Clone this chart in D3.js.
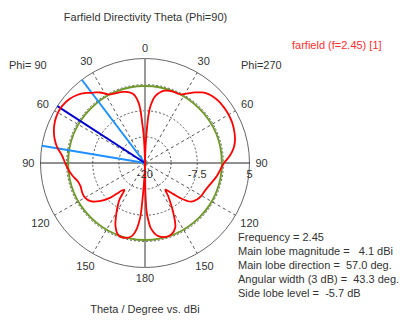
<!DOCTYPE html>
<html>
<head>
<meta charset="utf-8">
<script src="https://cdn.jsdelivr.net/npm/d3@7"></script>
<style>
  html, body { margin: 0; padding: 0; background: #fff; }
  svg { display: block; font-family: "Liberation Sans", Arial, sans-serif; font-size: 11px; }
  text { white-space: pre; }
</style>
</head>
<body>
<svg id="chart" width="412" height="320"></svg>
<script>
// Polar angle theta (deg) shared by both half-cuts
const theta = [0, 1, 2, 3, 4, 5, 6, 8, 10, 12.5, 15, 17.5, 20, 22.5, 25, 27.5, 30, 32.5, 35, 37.5, 40,
  45, 50, 55, 57, 60, 65, 70, 75, 80, 85, 90, 95, 100, 105, 110, 115, 120, 125, 130, 135,
  137.5, 140, 142.5, 145, 147.5, 150, 155, 160, 165, 170, 172.5, 175, 176, 177, 178, 179, 180];

// Directivity (dBi) on the Phi=270 half (drawn on the right)
const dirPhi270 = [-40, -24, -16, -12.5, -8.8, -6.9, -5.8, -4.2, -3.3, -2.6, -2.1, -1.85, -1.7, -1.65, -1.6, -1.5, -0.9, -0.2, 0.6, 1.3, 2.0,
  2.7, 3.0, 3.1, 3.1, 3.1, 3.0, 2.7, 2.3, 1.6, 0.4, -1.1, -1.9, -2.5, -3.2, -3.8, -4.2, -4.4, -4.8, -5.6, -8.2,
  -9.9, -11.2, -12.0, -10.3, -8.6, -6.6, -2.9, -1.75, -1.65, -2.3, -3.1, -4.4, -5.4, -6.7, -8.2, -12, -40];

// Directivity (dBi) on the Phi=90 half (drawn on the left)
const dirPhi90 = [-40, -25, -16, -12.5, -10.3, -7.0, -5.6, -4.0, -3.2, -2.7, -2.4, -2.15, -2.0, -1.9, -1.75, -1.5, -0.8, 0.0, 0.6, 1.15, 1.9,
  3.0, 3.7, 4.05, 4.1, 4.05, 3.75, 3.2, 2.4, 1.3, -0.1, -0.9, -1.6, -2.4, -3.3, -3.6, -3.4, -3.4, -4.1, -5.8, -8.3,
  -10.1, -11.4, -11.9, -9.4, -7.9, -6.4, -3.3, -1.55, -1.45, -2.3, -3.8, -7.0, -11, -15, -18, -22, -40];

const angleTicks = [0, 30, 60, 90, 120, 150, 180];
const radialLabels = [-20, -7.5, 5];
const gridRings = [-13.75, -7.5, -1.25];
const rMin = -20, rMax = 5;

// Farfield summary
const frequency = 2.45;
const mainLobeMag = 4.1;      // dBi
const mainLobeDir = 57.0;     // deg, Phi=90 half
const beamWidth = 43.3;       // deg, 3 dB
const beamStart = 37.2;       // deg, first 3 dB crossing
const sideLobeLevel = -5.7;   // dB relative to main lobe

const cx = 145, cy = 163, R = 104.5;
const rad = d => d * Math.PI / 180;
const rScale = d3.scaleLinear().domain([rMin, rMax]).range([0, R]).clamp(true);

const svg = d3.select("#chart");
const g = svg.append("g").attr("transform", `translate(${cx},${cy})`);

// screen angle: clockwise from top; Phi=270 -> +theta, Phi=90 -> -theta
const px = (a, r) => r * Math.sin(rad(a));
const py = (a, r) => -r * Math.cos(rad(a));

// dotted grid rings
g.selectAll("circle.ring").data(gridRings).join("circle")
  .attr("class", "ring").attr("r", d => rScale(d))
  .attr("fill", "none").attr("stroke", "#555").attr("stroke-width", 1)
  .attr("stroke-dasharray", "2,2");

// dashed spokes
const spokes = angleTicks.filter(t => t % 90 !== 0).flatMap(t => [t, -t]);
g.selectAll("line.spoke").data(spokes).join("line")
  .attr("class", "spoke")
  .attr("x1", 0).attr("y1", 0)
  .attr("x2", d => px(d, R)).attr("y2", d => py(d, R))
  .attr("stroke", "#555").attr("stroke-width", 1).attr("stroke-dasharray", "3,3");

// outer circle
g.append("circle").attr("r", R).attr("fill", "none").attr("stroke", "#666").attr("stroke-width", 1);

// theta = 0 / 180 axis
g.append("line").attr("x1", 0).attr("y1", -R).attr("x2", 0).attr("y2", R)
  .attr("stroke", "#9a9a9a").attr("stroke-width", 2);
// theta = 90 axis
g.append("line").attr("x1", -R).attr("y1", 0).attr("x2", R).attr("y2", 0)
  .attr("stroke", "#222").attr("stroke-width", 1);

// side lobe level circle
g.append("circle").attr("r", rScale(mainLobeMag + sideLobeLevel))
  .attr("fill", "none").attr("stroke", "#6f9a2a").attr("stroke-width", 2);

// main lobe direction and 3 dB width lines (Phi=90 half)
const beamEdges = [beamStart, beamStart + beamWidth];
g.selectAll("line.bw").data(beamEdges).join("line")
  .attr("class", "bw").attr("x1", 0).attr("y1", 0)
  .attr("x2", d => px(-d, R)).attr("y2", d => py(-d, R))
  .attr("stroke", "#1e90ff").attr("stroke-width", 2);
g.append("line").attr("x1", 0).attr("y1", 0)
  .attr("x2", px(-mainLobeDir, R)).attr("y2", py(-mainLobeDir, R))
  .attr("stroke", "#0000d0").attr("stroke-width", 2);

// farfield pattern
const pts = [];
theta.forEach((t, i) => pts.push([rad(t), rScale(dirPhi270[i])]));
for (let i = theta.length - 2; i > 0; i--) pts.push([rad(-theta[i]), rScale(dirPhi90[i])]);
const radial = d3.lineRadial().angle(d => d[0]).radius(d => d[1])
  .curve(d3.curveCatmullRomClosed.alpha(0.5));
g.append("path").attr("d", radial(pts))
  .attr("fill", "none").attr("stroke", "#ff0000").attr("stroke-width", 1.8)
  .attr("stroke-linejoin", "round");

// angle labels
const angleLabels = [];
angleTicks.forEach(t => {
  angleLabels.push({ a: t, t });
  if (t !== 0 && t !== 180) angleLabels.push({ a: -t, t });
});
g.selectAll("text.ang").data(angleLabels).join("text")
  .attr("class", "ang").attr("text-anchor", "middle").attr("dy", "0.35em")
  .attr("fill", "#333").text(d => d.t)
  .each(function (d) {
    const w = this.getComputedTextLength(), h = 9, gap = 6;
    const s = Math.abs(Math.sin(rad(d.a))), c = Math.abs(Math.cos(rad(d.a)));
    const dist = R + gap + s * w / 2 + c * h / 2;
    d3.select(this).attr("x", px(d.a, dist)).attr("y", py(d.a, dist));
  });

// radial value labels along theta = 90
g.selectAll("text.rad").data(radialLabels).join("text")
  .attr("class", "rad").attr("text-anchor", "middle")
  .attr("x", d => rScale(d)).attr("y", 14.5)
  .attr("fill", "#333").text(d => String(d));

// titles and annotations
svg.append("text").attr("x", 145.5).attr("y", 20.5).attr("text-anchor", "middle")
  .attr("fill", "#333").text("Farfield Directivity Theta (Phi=90)");
svg.append("text").attr("x", 292).attr("y", 49).attr("fill", "#ff3030")
  .text(`farfield (f=${frequency}) [1]`);
svg.append("text").attr("x", 9).attr("y", 69).attr("fill", "#333").text("Phi= 90");
svg.append("text").attr("x", 241).attr("y", 69).attr("fill", "#333").text("Phi=270");
svg.append("text").attr("x", 145).attr("y", 313).attr("text-anchor", "middle")
  .attr("fill", "#333").text("Theta / Degree vs. dBi");

const fmt = v => v.toFixed(1).padStart(5);
const infoLines = [
  `Frequency = ${frequency}`,
  `Main lobe magnitude = ${fmt(mainLobeMag)} dBi`,
  `Main lobe direction = ${fmt(mainLobeDir)} deg.`,
  `Angular width (3 dB) = ${fmt(beamWidth)} deg.`,
  `Side lobe level = ${fmt(sideLobeLevel)} dB`
];
svg.selectAll("text.info").data(infoLines).join("text")
  .attr("class", "info").attr("x", 238).attr("y", (d, i) => 240.5 + i * 14)
  .attr("fill", "#333").text(d => d);
</script>
</body>
</html>
